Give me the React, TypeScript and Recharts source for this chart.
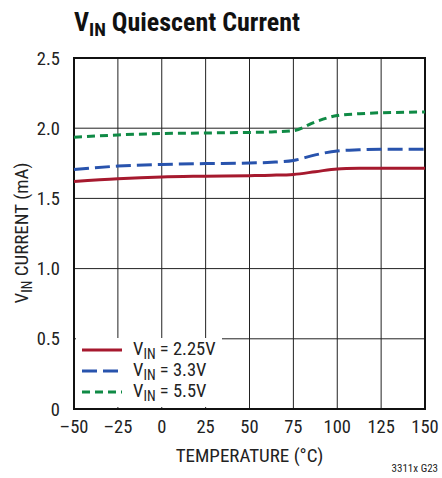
import {
  LineChart, Line, XAxis, YAxis, CartesianGrid, ReferenceArea,
} from 'recharts'

const temps = [-50, -25, 0, 25, 50, 62.5, 75, 87.5, 100, 112.5, 125, 150]
const vin225 = [1.62, 1.64, 1.653, 1.658, 1.662, 1.665, 1.671, 1.69, 1.71, 1.714, 1.715, 1.715]
const vin33 = [1.705, 1.73, 1.742, 1.748, 1.752, 1.757, 1.77, 1.81, 1.838, 1.846, 1.85, 1.85]
const vin55 = [1.935, 1.952, 1.962, 1.966, 1.97, 1.973, 1.982, 2.045, 2.09, 2.103, 2.11, 2.115]

const xTicks = [-50, -25, 0, 25, 50, 75, 100, 125, 150]
const yTicks = [0, 0.5, 1.0, 1.5, 2.0, 2.5]

const FONT = "'Liberation Sans Narrow', 'Roboto Condensed', 'Liberation Sans', Arial, sans-serif"
const RED = '#a6192e'
const BLUE = '#2853ad'
const GREEN = '#0f8a45'

const data = temps.map((t, i) => ({ t, a: vin225[i], b: vin33[i], c: vin55[i] }))

const series = [
  { key: 'a', color: RED, dash: undefined, label: '2.25V' },
  { key: 'b', color: BLUE, dash: '15 6', label: '3.3V' },
  { key: 'c', color: GREEN, dash: '8 5', label: '5.5V' },
]

const fmtX = (v: number) => (v < 0 ? '\u2013' + Math.abs(v) : String(v))
const fmtY = (v: number) => (v === 0 ? '0' : v.toFixed(1))

function LegendBox() {
  return (
    <div style={{ position: 'absolute', left: 76, top: 338, background: '#fff', width: 146, height: 69, fontSize: 18.5, color: '#222', paddingTop: 1, boxSizing: 'border-box' }}>
      {series.map(s => (
        <div key={s.key} style={{ display: 'flex', alignItems: 'center', height: 21 }}>
          <svg width={51} height={10} style={{ marginLeft: 6 }}>
            <line x1={0} y1={5} x2={40} y2={5} stroke={s.color} strokeWidth={3} strokeDasharray={s.dash} />
          </svg>
          <span>V<sub style={{ fontSize: 14, verticalAlign: -4 }}>IN</sub> = {s.label}</span>
        </div>
      ))}
    </div>
  )
}

export default function App() {
  return (
    <div style={{ position: 'absolute', left: 0, top: 0, width: 442, height: 478, background: '#fff', fontFamily: FONT }}>
      <div style={{ position: 'absolute', left: 74, top: 7, fontSize: 26, fontWeight: 'bold', color: '#111', whiteSpace: 'nowrap' }}>
        V<sub style={{ fontSize: 19, verticalAlign: -5 }}>IN</sub> Quiescent Current
      </div>
      <LineChart width={442} height={478} data={data} margin={{ top: 58, right: 17, left: 0, bottom: 0 }}>
        <CartesianGrid stroke="#222" strokeWidth={1} horizontalValues={yTicks} verticalValues={xTicks} />
        <XAxis
          dataKey="t" type="number" domain={[-50, 150]} ticks={xTicks} tickFormatter={fmtX}
          height={69} axisLine={false} tickLine={false} interval={0}
          tick={{ fill: '#222', fontSize: 18.5, fontFamily: FONT }} tickMargin={5}
          label={{ value: 'TEMPERATURE (°C)', position: 'insideBottom', offset: 16, fill: '#222', fontSize: 19, fontFamily: FONT }}
        />
        <YAxis
          type="number" domain={[0, 2.5]} ticks={yTicks} tickFormatter={fmtY}
          width={74} axisLine={false} tickLine={false} interval={0}
          tick={{ fill: '#222', fontSize: 18.5, fontFamily: FONT }} tickMargin={8}
        />
        <ReferenceArea x1={-50} x2={150} y1={0} y2={2.5} fill="none" stroke="#111" strokeWidth={2} ifOverflow="visible" />
        {series.map(s => (
          <Line
            key={s.key} dataKey={s.key} type="monotone" stroke={s.color} strokeWidth={3}
            strokeDasharray={s.dash} dot={false} isAnimationActive={false}
          />
        ))}
      </LineChart>
      <LegendBox />
      <div style={{ position: 'absolute', left: 6, top: 233, transform: 'translate(0,-50%) rotate(-90deg)', transformOrigin: 'center', fontSize: 19, color: '#222', whiteSpace: 'nowrap', width: 32, display: 'flex', justifyContent: 'center' }}>
        <span>V<sub style={{ fontSize: 14, verticalAlign: -4 }}>IN</sub> CURRENT (mA)</span>
      </div>
      <div style={{ position: 'absolute', right: 4, top: 462, fontSize: 11, color: '#222' }}>3311x G23</div>
    </div>
  )
}
